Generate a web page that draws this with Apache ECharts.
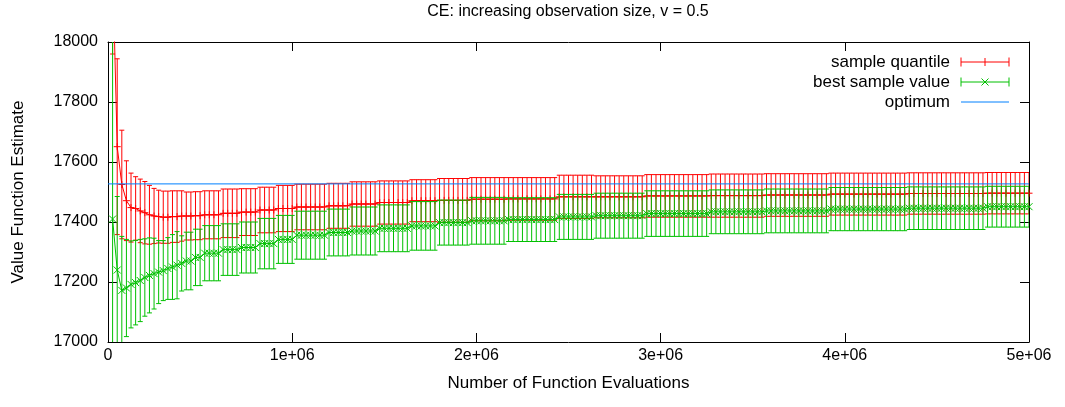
<!DOCTYPE html>
<html><head><meta charset="utf-8">
<script src="https://cdn.jsdelivr.net/npm/echarts/dist/echarts.min.js"></script>
<style>html,body{margin:0;padding:0;background:#fff}#c{width:1065px;height:407px}</style>
</head><body><div id="c"></div>
<script>
// ---- data ----
const titleText = 'CE: increasing observation size, v = 0.5';
const xName = 'Number of Function Evaluations';
const yName = 'Value Function Estimate';
const seriesNames = ['sample quantile', 'best sample value', 'optimum'];
const xTicks = [0, 1e6, 2e6, 3e6, 4e6, 5e6];
const yTicks = [17000, 17200, 17400, 17600, 17800, 18000];
const evalStep = 25000;
const evals = Array.from({length: 200}, (_, i) => (i + 1) * evalStep);
const optimum = 17527;

const quantileMean = [
18260,17651,17525,17471,17448,17445,17437,17431,17424,17420,
17418,17416,17416,17418,17418,17420,17420,17420,17421,17421,
17424,17424,17424,17424,17429,17429,17429,17429,17433,17433,
17433,17433,17440,17440,17440,17440,17445,17445,17445,17445,
17450,17450,17450,17450,17450,17450,17450,17454,17454,17454,
17454,17454,17460,17460,17460,17460,17460,17460,17465,17465,
17465,17465,17465,17465,17465,17471,17471,17471,17471,17471,
17471,17472,17472,17472,17472,17472,17472,17472,17476,17476,
17476,17476,17476,17476,17476,17476,17477,17477,17477,17477,
17477,17477,17477,17477,17477,17477,17477,17484,17484,17484,
17484,17484,17484,17484,17484,17484,17484,17484,17484,17484,
17484,17484,17484,17484,17484,17484,17487,17487,17487,17487,
17487,17487,17487,17487,17487,17487,17487,17487,17487,17487,
17488,17488,17488,17488,17488,17488,17488,17488,17488,17488,
17488,17488,17490,17490,17490,17490,17490,17490,17490,17490,
17490,17490,17490,17490,17490,17490,17493,17493,17493,17493,
17493,17493,17493,17493,17493,17493,17493,17493,17493,17493,
17493,17493,17493,17495,17495,17495,17495,17495,17495,17495,
17495,17495,17495,17495,17495,17495,17495,17495,17495,17495,
17496,17496,17496,17496,17496,17496,17496,17496,17496,17496];

const quantileErr = [
300,293,181,133,115,106,106,104,98,92,
88,87,87,86,86,84,80,80,80,80,
80,80,80,80,81,81,81,81,78,78,
78,78,76,76,76,76,77,77,77,77,
76,76,76,76,76,76,76,75,75,75,
75,75,74,74,74,74,74,74,72,72,
72,72,72,72,72,70,70,70,70,70,
70,73,73,73,73,73,73,73,72,72,
72,72,72,72,72,72,71,71,71,71,
71,71,71,71,71,71,71,72,72,72,
72,72,72,72,72,70,70,70,70,70,
70,70,70,70,70,70,71,71,71,71,
71,71,71,71,71,71,71,71,71,71,
72,72,72,72,72,72,72,72,72,72,
72,72,71,71,71,71,71,71,71,71,
71,71,71,71,71,71,70,70,70,70,
70,70,70,70,70,70,70,70,70,70,
70,70,70,69,69,69,69,69,69,69,
69,69,69,69,69,69,69,69,69,69,
69,69,69,69,69,69,69,69,69,69];

const bestMean = [
17410,17240,17172,17180,17192,17198,17205,17215,17222,17228,
17233,17238,17245,17250,17256,17262,17270,17270,17282,17282,
17296,17296,17296,17296,17308,17308,17308,17308,17315,17315,
17315,17315,17328,17328,17328,17328,17342,17342,17342,17342,
17356,17356,17356,17356,17356,17356,17356,17365,17365,17365,
17365,17365,17370,17370,17370,17370,17370,17370,17379,17379,
17379,17379,17379,17379,17379,17387,17387,17387,17387,17387,
17387,17398,17398,17398,17398,17398,17398,17398,17404,17404,
17404,17404,17404,17404,17404,17404,17408,17408,17408,17408,
17408,17408,17408,17408,17408,17408,17408,17417,17417,17417,
17417,17417,17417,17417,17417,17421,17421,17421,17421,17421,
17421,17421,17421,17421,17421,17421,17428,17428,17428,17428,
17428,17428,17428,17428,17428,17428,17428,17428,17428,17428,
17434,17434,17434,17434,17434,17434,17434,17434,17434,17434,
17434,17434,17437,17437,17437,17437,17437,17437,17437,17437,
17437,17437,17437,17437,17437,17437,17443,17443,17443,17443,
17443,17443,17443,17443,17443,17443,17443,17443,17443,17443,
17443,17443,17443,17446,17446,17446,17446,17446,17446,17446,
17446,17446,17446,17446,17446,17446,17446,17446,17446,17446,
17451,17451,17451,17451,17451,17451,17451,17451,17451,17451];

const bestErr = [
700,245,180,162,145,141,137,129,125,118,
105,100,103,108,112,92,96,96,94,94,
92,92,92,92,86,86,86,86,85,85,
85,85,84,84,84,84,80,80,80,80,
80,80,80,80,80,80,80,78,78,78,
78,78,80,80,80,80,80,80,78,78,
78,78,78,78,78,81,81,81,81,81,
81,75,75,75,75,75,75,75,78,78,
78,78,78,78,78,78,73,73,73,73,
73,73,73,73,73,73,73,75,75,75,
75,75,75,75,75,75,75,75,75,75,
75,75,75,75,75,75,76,76,76,76,
76,76,76,76,76,76,76,76,76,76,
73,73,73,73,73,73,73,73,73,73,
73,73,73,73,73,73,73,73,73,73,
73,73,73,73,73,73,72,72,72,72,
72,72,72,72,72,72,72,72,72,72,
72,72,72,71,71,71,71,71,71,71,
71,71,71,71,71,71,71,71,71,71,
68,68,68,68,68,68,68,68,68,68];

// ---- styles ----
const RED = '#ff0000', GREEN = '#00c000', BLUE = '#0080ff';
const FONT = 'Liberation Sans, Arial, sans-serif';
const FS = 17, TFS = 16;

const chart = echarts.init(document.getElementById('c'), null, {renderer: 'canvas'});

function errBars(color) {
  return function (params, api) {
    const x = api.value(0), m = api.value(1), e = api.value(2);
    const p1 = api.coord([x, m + e]);
    const p2 = api.coord([x, m - e]);
    const h = 2.5;
    const st = {stroke: color, lineWidth: 1, fill: null};
    return {type: 'group', children: [
      {type: 'line', shape: {x1: p1[0], y1: p1[1], x2: p2[0], y2: p2[1]}, style: st},
      {type: 'line', shape: {x1: p1[0] - h, y1: p1[1], x2: p1[0] + h, y2: p1[1]}, style: st},
      {type: 'line', shape: {x1: p2[0] - h, y1: p2[1], x2: p2[0] + h, y2: p2[1]}, style: st}
    ]};
  };
}

function axisCommon() {
  return {
    show: true,
    axisLine: {show: true, onZero: false, lineStyle: {color: '#000', width: 1}},
    axisTick: {show: true, inside: true, length: 9, lineStyle: {color: '#000', width: 1}},
    splitLine: {show: false},
    minorTick: {show: false}
  };
}

const xLab = v => v === 0 ? '0' : (v / 1e6) + 'e+06';
const yLab = v => String(v);

const LX = 950, L1 = 961, L2 = 1009, LM = 985;
const rows = [62, 82, 102];

const option = {
  animation: false,
  backgroundColor: '#fff',
  title: {
    text: titleText, left: 568, top: 4, padding: 0, textAlign: 'center',
    textStyle: {fontFamily: FONT, fontSize: 16, fontWeight: 'normal', color: '#000'}
  },
  grid: {left: 108, right: 36, top: 42, bottom: 65, containLabel: false},
  xAxis: [
    Object.assign(axisCommon(), {
      type: 'value', min: xTicks[0], max: xTicks[xTicks.length - 1], interval: 1e6, position: 'bottom',
      name: xName, nameLocation: 'middle', nameGap: 33,
      nameTextStyle: {fontFamily: FONT, fontSize: FS, color: '#000'},
      axisLabel: {formatter: xLab, color: '#000', fontFamily: FONT, fontSize: TFS, margin: 6}
    }),
    Object.assign(axisCommon(), {
      type: 'value', min: xTicks[0], max: xTicks[xTicks.length - 1], interval: 1e6, position: 'top',
      axisLabel: {show: false}
    })
  ],
  yAxis: [
    Object.assign(axisCommon(), {
      type: 'value', min: yTicks[0], max: yTicks[yTicks.length - 1], interval: 200, position: 'left',
      name: yName, nameLocation: 'middle', nameGap: 81, nameRotate: 90,
      nameTextStyle: {fontFamily: FONT, fontSize: FS, color: '#000'},
      axisLabel: {formatter: yLab, color: '#000', fontFamily: FONT, fontSize: TFS, margin: 10}
    }),
    Object.assign(axisCommon(), {
      type: 'value', min: yTicks[0], max: yTicks[yTicks.length - 1], interval: 200, position: 'right',
      axisLabel: {show: false}
    })
  ],
  series: [
    {
      name: seriesNames[0] + ' bars', type: 'custom', clip: true, z: 2,
      renderItem: errBars(RED),
      encode: {x: 0, y: 1},
      data: evals.map((x, i) => [x, quantileMean[i], quantileErr[i]])
    },
    {
      name: seriesNames[0], type: 'line', clip: true, z: 3,
      data: evals.map((x, i) => [x, quantileMean[i]]),
      lineStyle: {color: RED, width: 1},
      symbol: 'path://M0,5L10,5M5,0L5,10', symbolSize: 7, showSymbol: true,
      itemStyle: {color: 'rgba(0,0,0,0)', borderColor: RED, borderWidth: 1}
    },
    {
      name: seriesNames[1] + ' bars', type: 'custom', clip: true, z: 4,
      renderItem: errBars(GREEN),
      encode: {x: 0, y: 1},
      data: evals.map((x, i) => [x, bestMean[i], bestErr[i]])
    },
    {
      name: seriesNames[1], type: 'line', clip: true, z: 5,
      data: evals.map((x, i) => [x, bestMean[i]]),
      lineStyle: {color: GREEN, width: 1},
      symbol: 'path://M0,0L10,10M10,0L0,10', symbolSize: 7, showSymbol: true,
      itemStyle: {color: 'rgba(0,0,0,0)', borderColor: GREEN, borderWidth: 1}
    },
    {
      name: seriesNames[2], type: 'line', z: 6, symbol: 'none',
      data: [[xTicks[0], optimum], [xTicks[xTicks.length - 1], optimum]],
      lineStyle: {color: BLUE, width: 1}
    }
  ],
  graphic: [
    {type: 'text', x: LX, y: rows[0], style: {text: seriesNames[0], align: 'right', verticalAlign: 'middle', font: FS + 'px ' + FONT, fill: '#000'}},
    {type: 'text', x: LX, y: rows[1], style: {text: seriesNames[1], align: 'right', verticalAlign: 'middle', font: FS + 'px ' + FONT, fill: '#000'}},
    {type: 'text', x: LX, y: rows[2], style: {text: seriesNames[2], align: 'right', verticalAlign: 'middle', font: FS + 'px ' + FONT, fill: '#000'}},
    {type: 'line', shape: {x1: L1, y1: rows[0], x2: L2, y2: rows[0]}, style: {stroke: RED, lineWidth: 1}},
    {type: 'line', shape: {x1: L1, y1: rows[0] - 4.5, x2: L1, y2: rows[0] + 4.5}, style: {stroke: RED, lineWidth: 1}},
    {type: 'line', shape: {x1: L2, y1: rows[0] - 4.5, x2: L2, y2: rows[0] + 4.5}, style: {stroke: RED, lineWidth: 1}},
    {type: 'line', shape: {x1: LM, y1: rows[0] - 4, x2: LM, y2: rows[0] + 4}, style: {stroke: RED, lineWidth: 1}},
    {type: 'line', shape: {x1: L1, y1: rows[1], x2: L2, y2: rows[1]}, style: {stroke: GREEN, lineWidth: 1}},
    {type: 'line', shape: {x1: L1, y1: rows[1] - 4.5, x2: L1, y2: rows[1] + 4.5}, style: {stroke: GREEN, lineWidth: 1}},
    {type: 'line', shape: {x1: L2, y1: rows[1] - 4.5, x2: L2, y2: rows[1] + 4.5}, style: {stroke: GREEN, lineWidth: 1}},
    {type: 'line', shape: {x1: LM - 3.5, y1: rows[1] - 3.5, x2: LM + 3.5, y2: rows[1] + 3.5}, style: {stroke: GREEN, lineWidth: 1}},
    {type: 'line', shape: {x1: LM - 3.5, y1: rows[1] + 3.5, x2: LM + 3.5, y2: rows[1] - 3.5}, style: {stroke: GREEN, lineWidth: 1}},
    {type: 'line', shape: {x1: L1, y1: rows[2], x2: L2, y2: rows[2]}, style: {stroke: BLUE, lineWidth: 1}}
  ]
};
chart.setOption(option);
</script>
</body></html>
